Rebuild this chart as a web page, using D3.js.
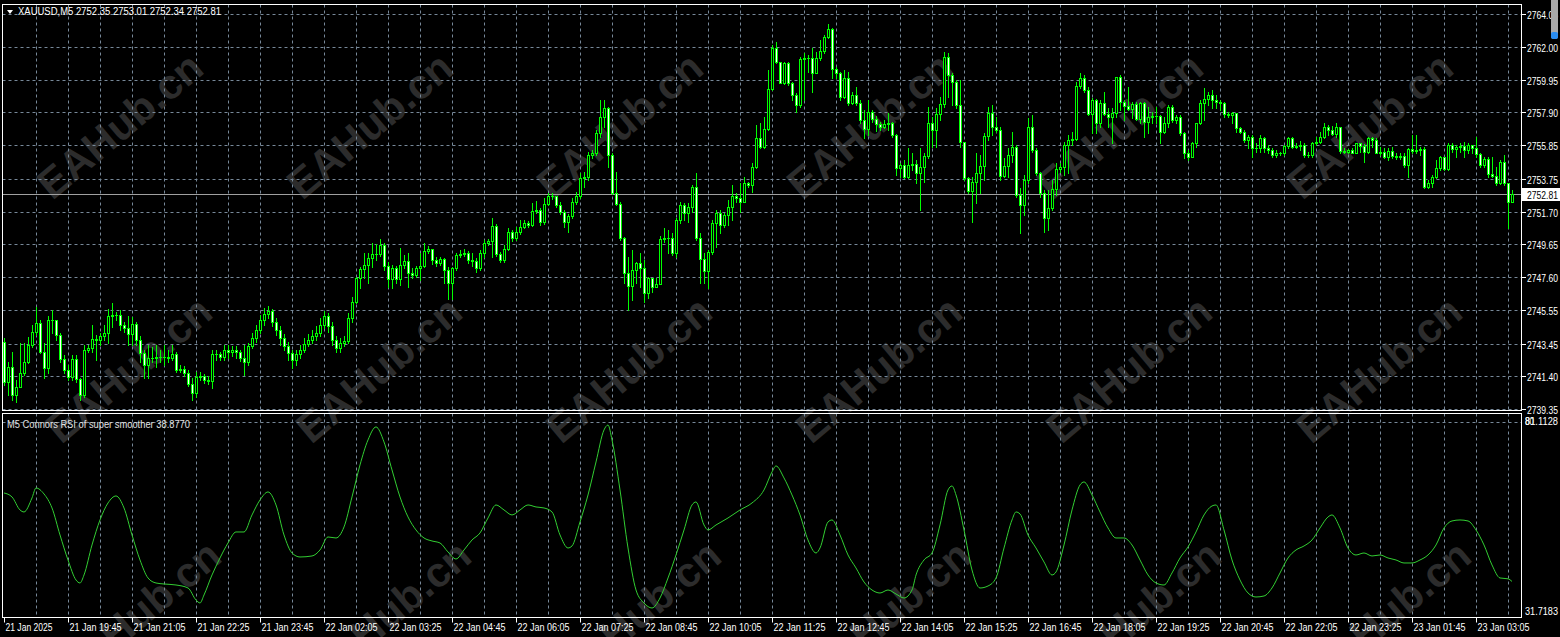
<!DOCTYPE html>
<html><head><meta charset="utf-8">
<script src="https://cdn.jsdelivr.net/npm/d3@7/dist/d3.min.js"></script>
<style>html,body{margin:0;padding:0;background:#000;overflow:hidden}svg{display:block}</style>
</head><body>
<svg id="c" width="1560" height="637"></svg>
<script>
// ---------------- data ----------------
const symbolTitle = "XAUUSD,M5  2752.35 2753.01 2752.34 2752.81";
const indicatorTitle = "M5 Connors RSI of super smoother 38.8770";
const firstOpen = 2743.55;
const closes = [
2741.05,2741.99,2740.24,2740.74,2741.61,2742.30,2743.36,2744.18,2744.74,2742.93,
2741.93,2744.93,2744.93,2743.99,2742.49,2741.80,2741.36,2742.49,2741.24,2740.24,
2743.05,2743.18,2743.74,2743.68,2743.93,2744.11,2745.18,2745.24,2745.24,2744.61,
2744.43,2744.05,2744.68,2743.68,2742.86,2742.11,2742.55,2742.55,2742.61,2742.61,
2742.61,2742.55,2742.80,2741.80,2741.86,2741.61,2740.93,2740.36,2741.36,2741.43,
2741.18,2741.11,2742.80,2742.80,2742.61,2743.05,2742.93,2743.05,2742.93,2742.55,
2742.30,2743.30,2743.80,2744.30,2744.93,2745.30,2745.49,2744.80,2744.30,2743.80,
2743.30,2742.86,2742.43,2742.80,2743.05,2743.43,2743.68,2743.93,2744.11,2744.61,
2745.18,2744.55,2743.68,2743.18,2743.49,2743.61,2745.05,2746.05,2747.55,2748.11,
2748.36,2748.80,2749.05,2749.05,2749.61,2748.30,2747.49,2748.18,2747.49,2748.36,
2748.61,2747.86,2747.74,2748.18,2748.30,2749.24,2749.36,2748.68,2748.49,2748.74,
2748.05,2747.24,2748.18,2748.99,2749.05,2749.11,2748.68,2748.61,2748.18,2749.11,
2749.74,2749.86,2750.80,2749.05,2748.68,2749.36,2750.43,2750.05,2750.43,2750.74,
2750.99,2750.86,2751.74,2751.80,2751.05,2752.18,2752.68,2752.68,2752.11,2751.68,
2751.05,2751.43,2752.30,2752.68,2753.80,2753.86,2755.24,2755.36,2756.61,2757.61,
2758.18,2755.24,2752.86,2752.18,2750.05,2747.86,2747.05,2748.05,2748.49,2748.18,
2746.61,2747.55,2746.99,2747.18,2749.99,2750.05,2750.05,2749.11,2751.18,2752.11,
2751.61,2751.99,2753.24,2750.05,2748.74,2747.99,2749.18,2750.99,2751.61,2750.86,
2751.49,2751.99,2752.68,2752.55,2752.30,2753.49,2753.36,2754.49,2756.30,2755.74,
2756.86,2759.36,2761.93,2761.05,2759.74,2760.99,2759.74,2758.99,2758.36,2761.24,
2761.30,2761.30,2760.36,2761.30,2761.74,2762.61,2763.11,2760.61,2760.36,2758.86,
2760.05,2758.49,2758.99,2758.49,2757.43,2756.86,2757.93,2757.49,2757.18,2756.99,
2757.18,2757.24,2756.49,2754.43,2754.61,2753.86,2754.61,2754.68,2754.11,2754.49,
2755.18,2757.24,2756.80,2757.80,2758.43,2761.36,2760.24,2759.80,2758.36,2756.05,
2753.80,2752.99,2753.55,2754.11,2754.55,2756.43,2757.86,2756.99,2756.80,2753.93,
2754.55,2755.24,2755.74,2752.74,2752.11,2753.68,2756.99,2755.55,2754.11,2752.86,
2751.30,2751.93,2753.11,2754.36,2754.49,2755.86,2756.18,2756.24,2759.55,2760.05,
2759.30,2757.80,2758.68,2757.24,2758.49,2757.80,2757.61,2757.86,2760.11,2758.55,
2758.30,2758.11,2758.43,2757.49,2758.49,2757.30,2757.61,2757.68,2757.68,2756.68,
2757.24,2758.24,2757.43,2757.61,2756.61,2755.36,2755.11,2755.99,2757.24,2758.49,
2758.74,2758.99,2758.68,2758.55,2758.49,2757.80,2757.74,2757.86,2756.93,2756.68,
2756.18,2756.36,2755.68,2755.68,2756.30,2755.68,2755.55,2755.24,2755.36,2755.36,
2755.80,2756.30,2755.74,2755.80,2755.86,2755.24,2755.24,2755.99,2756.05,2756.36,
2756.99,2756.80,2756.55,2756.99,2755.49,2755.43,2755.55,2755.36,2755.99,2755.80,
2755.43,2756.30,2756.18,2755.36,2755.43,2755.11,2755.49,2755.18,2755.11,2755.18,
2754.61,2755.61,2755.49,2755.55,2755.61,2753.24,2753.49,2753.86,2754.43,2755.11,
2754.36,2755.86,2755.61,2755.74,2755.80,2755.55,2755.86,2755.68,2755.30,2754.61,
2754.99,2754.05,2753.93,2753.49,2754.80,2753.49,2752.30,2752.81];
const highs = [
2743.80,2742.30,2742.93,2741.18,2743.49,2743.49,2743.86,2744.61,2745.74,2744.93,
2743.49,2745.18,2745.55,2744.80,2744.11,2742.74,2742.11,2742.74,2742.74,2741.30,
2743.36,2743.36,2744.61,2743.99,2744.11,2744.61,2745.61,2745.99,2745.43,2745.55,
2744.80,2745.18,2745.11,2744.80,2743.93,2743.05,2743.36,2743.24,2743.36,2743.05,
2743.36,2743.05,2743.36,2742.93,2742.11,2742.05,2741.80,2741.30,2741.68,2741.68,
2741.55,2741.43,2743.05,2743.05,2742.93,2743.36,2743.36,2743.30,2743.30,2743.05,
2743.36,2743.49,2744.11,2744.61,2745.24,2745.68,2745.80,2745.61,2745.05,2744.55,
2744.05,2743.55,2743.05,2743.05,2743.36,2743.80,2744.05,2744.30,2744.55,2745.05,
2745.49,2745.36,2744.80,2743.93,2743.80,2743.93,2745.36,2746.36,2747.61,2748.24,
2749.11,2749.11,2749.74,2749.68,2749.99,2749.74,2748.55,2748.36,2748.30,2749.43,
2748.99,2749.11,2748.18,2748.30,2749.11,2749.74,2749.55,2749.36,2748.86,2748.86,
2748.80,2748.24,2748.24,2749.11,2749.30,2749.36,2749.24,2749.11,2748.80,2749.30,
2749.93,2749.99,2751.30,2750.93,2749.18,2749.61,2750.68,2750.55,2750.74,2751.18,
2751.18,2751.11,2752.24,2752.36,2751.93,2752.55,2752.86,2752.86,2752.68,2752.30,
2751.80,2751.55,2752.55,2752.93,2754.11,2754.18,2755.43,2755.55,2756.80,2758.68,
2758.68,2758.24,2755.36,2754.18,2752.30,2750.11,2748.86,2749.30,2748.55,2749.11,
2748.68,2747.61,2747.55,2747.55,2750.18,2750.68,2750.55,2750.36,2751.30,2752.30,
2752.24,2752.24,2753.36,2754.11,2750.36,2749.11,2749.30,2751.18,2751.80,2751.80,
2751.61,2752.43,2753.36,2752.86,2753.49,2753.86,2753.55,2754.74,2757.11,2757.24,
2757.61,2760.55,2762.11,2762.30,2761.05,2761.05,2761.05,2759.80,2759.11,2761.36,
2761.61,2761.49,2761.93,2761.68,2762.43,2762.74,2763.43,2763.18,2760.74,2760.43,
2760.55,2760.43,2759.18,2759.49,2758.68,2758.05,2758.68,2758.05,2757.68,2757.30,
2757.43,2757.86,2757.30,2756.55,2754.74,2754.93,2755.68,2755.36,2754.93,2755.68,
2755.36,2758.24,2757.61,2758.18,2758.86,2761.68,2761.61,2760.36,2759.93,2759.93,
2756.05,2753.86,2753.86,2755.36,2755.24,2756.61,2758.24,2758.36,2757.61,2756.99,
2755.05,2755.68,2756.68,2755.86,2753.18,2753.99,2757.55,2757.74,2755.68,2754.18,
2753.05,2753.05,2753.68,2754.74,2754.74,2756.05,2756.49,2756.68,2759.80,2760.36,
2760.24,2759.49,2758.80,2758.74,2758.68,2759.18,2758.18,2758.18,2760.11,2760.24,
2758.68,2759.49,2758.55,2758.55,2758.55,2758.55,2758.24,2757.93,2758.24,2757.74,
2757.61,2758.36,2758.36,2757.74,2757.74,2756.68,2755.55,2756.05,2757.24,2758.68,
2759.43,2759.18,2759.30,2758.99,2758.68,2758.55,2757.93,2757.93,2757.74,2756.99,
2756.80,2756.49,2756.49,2755.99,2756.49,2756.36,2755.86,2755.68,2755.55,2755.43,
2755.86,2756.36,2756.36,2755.99,2756.11,2755.99,2755.43,2756.05,2756.36,2756.68,
2757.24,2757.11,2757.05,2757.24,2756.99,2755.68,2755.61,2755.68,2755.99,2755.99,
2755.93,2756.36,2756.36,2756.30,2755.74,2755.68,2755.68,2755.74,2755.36,2755.36,
2755.36,2755.68,2756.49,2756.49,2755.74,2755.74,2753.68,2753.99,2754.93,2755.18,
2755.11,2755.99,2755.99,2755.86,2755.99,2756.05,2755.99,2755.86,2756.36,2755.36,
2755.11,2755.11,2755.11,2754.49,2754.93,2755.24,2753.49,2753.05];
const lows = [
2740.86,2740.24,2739.93,2739.80,2740.99,2741.49,2742.24,2743.24,2743.99,2742.86,
2741.30,2741.61,2744.11,2743.68,2742.30,2741.61,2741.18,2741.18,2741.05,2739.93,
2740.11,2742.93,2742.93,2742.43,2743.36,2743.68,2743.49,2744.49,2744.93,2744.30,
2744.18,2743.36,2743.36,2743.36,2742.30,2741.30,2741.30,2742.30,2741.99,2742.30,
2742.11,2742.30,2742.43,2741.68,2741.68,2741.43,2740.80,2739.93,2740.11,2741.18,
2740.99,2740.93,2740.68,2742.43,2742.43,2742.43,2742.55,2742.68,2742.55,2742.36,
2741.49,2742.11,2743.18,2743.55,2744.11,2744.61,2745.05,2744.55,2743.99,2743.36,
2743.05,2742.43,2741.93,2742.11,2742.55,2742.93,2743.30,2743.49,2743.68,2743.93,
2744.43,2744.18,2743.36,2742.93,2742.93,2743.30,2743.49,2744.80,2745.99,2746.93,
2747.55,2747.24,2748.24,2748.68,2748.93,2748.05,2746.99,2746.93,2747.24,2747.11,
2748.18,2746.99,2747.55,2747.61,2747.43,2748.24,2749.11,2748.43,2748.30,2748.36,
2747.24,2746.24,2746.24,2748.05,2748.86,2748.93,2748.49,2748.30,2747.93,2748.05,
2748.86,2749.61,2748.86,2748.93,2748.55,2748.55,2749.30,2749.86,2749.93,2750.30,
2750.68,2750.74,2750.80,2751.61,2750.86,2750.93,2752.11,2752.49,2751.99,2751.55,
2750.74,2750.43,2751.30,2752.18,2752.55,2753.24,2753.68,2755.05,2755.24,2756.36,
2756.99,2754.49,2752.80,2752.11,2749.93,2747.24,2745.55,2746.18,2747.24,2746.99,
2746.05,2746.30,2746.68,2746.99,2747.18,2749.80,2749.11,2748.99,2748.86,2750.99,
2751.18,2751.05,2751.68,2749.93,2747.24,2747.24,2746.93,2749.05,2749.49,2750.36,
2750.74,2750.86,2751.18,2752.30,2751.68,2752.30,2753.24,2752.93,2754.43,2755.68,
2755.68,2756.80,2759.30,2760.99,2759.74,2759.68,2759.61,2758.68,2757.93,2758.24,
2758.68,2760.43,2759.18,2760.36,2761.18,2761.61,2762.55,2760.05,2760.05,2758.68,
2758.80,2758.36,2758.43,2758.36,2757.24,2756.30,2756.49,2757.30,2756.74,2756.80,
2756.93,2756.80,2756.36,2753.99,2753.86,2753.80,2753.80,2754.30,2753.49,2751.80,
2753.55,2755.05,2755.74,2755.74,2757.43,2758.24,2758.86,2758.36,2758.18,2755.74,
2753.68,2752.86,2751.05,2752.24,2752.86,2753.68,2756.18,2756.49,2756.68,2753.68,
2753.86,2753.86,2754.80,2752.61,2750.36,2751.49,2753.49,2755.43,2753.99,2752.61,
2750.43,2750.55,2751.80,2752.74,2754.18,2753.99,2754.11,2755.86,2756.18,2759.43,
2759.18,2757.74,2756.61,2756.61,2756.99,2757.74,2756.99,2755.99,2757.61,2758.05,
2757.43,2758.05,2757.55,2757.43,2757.24,2756.36,2756.61,2757.24,2757.24,2755.99,
2756.61,2756.99,2757.30,2757.24,2756.49,2755.05,2754.93,2755.11,2755.74,2757.18,
2757.43,2758.36,2758.18,2758.18,2758.05,2757.61,2757.61,2757.24,2756.68,2756.61,
2756.05,2755.68,2755.11,2755.43,2755.43,2755.43,2755.36,2755.11,2755.11,2755.24,
2755.24,2755.68,2755.68,2755.68,2755.55,2755.11,2755.11,2755.11,2755.86,2755.99,
2756.30,2756.49,2756.49,2756.36,2755.36,2755.36,2755.36,2755.36,2755.36,2755.43,
2754.80,2755.36,2755.74,2755.36,2755.24,2755.05,2754.93,2755.05,2754.99,2754.99,
2754.49,2753.86,2755.36,2755.36,2755.24,2753.18,2753.18,2753.24,2753.80,2754.30,
2754.30,2754.30,2755.43,2755.11,2755.43,2755.11,2755.36,2755.36,2755.11,2754.49,
2754.49,2753.86,2753.86,2753.36,2753.43,2753.36,2750.68,2752.30];
const lastPrice = 2752.81;
const priceTicks = [2764.05,2762.00,2759.95,2757.90,2755.85,2753.75,2751.70,2749.65,2747.60,2745.55,2743.45,2741.40,2739.35];
const priceTickLabels = ["2764.05","2762.00","2759.95","2757.90","2755.85","2753.75","2751.70","2749.65","2747.60","2745.55","2743.45","2741.40","2739.35"];
const timeLabels = ["21 Jan 2025","21 Jan 19:45","21 Jan 21:05","21 Jan 22:25","21 Jan 23:45","22 Jan 02:05","22 Jan 03:25","22 Jan 04:45","22 Jan 06:05","22 Jan 07:25","22 Jan 08:45","22 Jan 10:05","22 Jan 11:25","22 Jan 12:45","22 Jan 14:05","22 Jan 15:25","22 Jan 16:45","22 Jan 18:05","22 Jan 19:25","22 Jan 20:45","22 Jan 22:05","22 Jan 23:25","23 Jan 01:45","23 Jan 03:05"];
const timeLabelBars = [0,16,32,48,64,80,96,112,128,144,160,176,192,208,224,240,256,272,288,304,320,336,352,368];
const rsiMin = 31.7183, rsiMax = 81.1128;
const rsiLabels = ["81.1128","31.7183"];
// [bar index, indicator value]
const rsiPoints = [
[0,62.77],[2,61.69],[4,58.18],[5,57.64],[7,61.42],[8,64.12],[10,62.50],[12,58.72],[14,51.43],[16,44.68],
[18,39.28],[19,38.47],[20,40.63],[22,48.73],[24,55.48],[26,60.07],[28,61.96],[30,58.72],[32,51.43],[34,44.68],
[36,39.82],[38,38.47],[40,38.20],[43,37.93],[46,37.12],[48,33.88],[49,33.07],[50,35.23],[52,40.63],[54,45.22],
[56,49.27],[58,52.24],[60,52.24],[62,56.83],[64,60.88],[66,63.04],[68,59.53],[70,51.43],[72,46.57],[74,45.49],
[77,45.76],[79,47.38],[81,50.89],[83,50.62],[85,53.59],[87,61.69],[89,70.33],[91,77.08],[93,80.59],[95,76.54],
[97,68.98],[99,61.69],[101,56.29],[103,52.78],[105,50.62],[107,49.81],[109,49.27],[111,46.84],[113,44.95],[115,47.38],
[117,50.08],[119,51.97],[121,56.02],[123,59.53],[125,58.18],[127,56.83],[129,58.18],[131,59.53],[133,58.99],[135,58.72],
[137,57.64],[139,51.43],[141,47.92],[142,48.46],[144,54.94],[146,62.23],[148,71.14],[150,79.78],[151,81.11],[152,77.08],
[154,63.58],[156,47.92],[158,36.58],[160,33.07],[162,31.72],[164,34.42],[166,39.82],[168,46.03],[170,52.78],[172,59.53],
[173,60.34],[175,54.13],[176,52.78],[178,54.13],[181,56.02],[184,58.18],[187,60.07],[190,63.58],[192,68.44],[193,70.06],
[195,66.82],[197,62.23],[199,56.83],[201,50.08],[203,46.57],[204,47.92],[206,54.94],[207,55.48],[209,51.43],[211,46.03],
[213,42.52],[215,38.74],[217,36.58],[219,35.77],[221,36.58],[223,35.50],[225,34.42],[227,36.58],[228,40.63],[230,44.68],
[232,46.57],[234,54.13],[236,63.58],[237,64.66],[238,62.23],[240,52.78],[242,41.98],[244,37.12],[246,37.66],[248,39.82],
[250,47.92],[252,55.48],[253,57.64],[254,57.10],[256,51.43],[258,47.92],[260,44.14],[262,40.63],[263,41.44],[265,48.73],
[267,58.18],[269,64.93],[270,65.74],[272,62.23],[274,57.64],[276,53.32],[278,50.62],[280,50.62],[282,48.73],[284,44.68],
[286,40.63],[288,38.47],[290,37.93],[292,41.17],[294,45.22],[296,48.19],[298,52.24],[300,56.83],[302,59.26],[303,59.53],
[305,52.78],[307,44.68],[309,39.28],[311,35.77],[313,34.69],[315,34.96],[317,37.12],[319,41.17],[321,45.22],[323,47.38],
[325,48.46],[327,50.08],[329,53.32],[331,56.29],[332,56.83],[334,53.32],[336,47.92],[338,46.03],[340,46.57],[342,45.76],
[344,46.03],[346,45.22],[348,44.68],[350,43.87],[352,43.87],[354,44.68],[356,46.03],[358,48.73],[360,53.32],[362,55.21],
[364,55.48],[366,55.21],[368,52.78],[370,48.73],[372,43.33],[374,39.82],[376,39.60],[377,38.877]];

// ---------------- drawing ----------------
const W = 1560, H = 637;
const FONT = "'Liberation Sans', Arial, sans-serif";
const GRID = "#778899", CANDLE = "#00ff00", LINE = "#32cd32";
const main = {l: 2.5, r: 1521.5, t: 4.5, b: 410.5};
const sub  = {l: 2.5, r: 1521.5, t: 413.5, b: 617.5};

const svg = d3.select("#c");
svg.append("rect").attr("width", W).attr("height", H).attr("fill", "#000");

const x = d3.scaleLinear().domain([0, closes.length - 1]).range([4, 1512]);
const y = d3.scaleLinear().domain([2739.35, 2764.05]).range([409.2, 14]);
const yr = d3.scaleLinear().domain([rsiMin, rsiMax]).range([608, 425]);
const px = v => Math.round(v) + 0.5;

const defs = svg.append("defs");
defs.append("clipPath").attr("id", "clipMain").append("rect")
  .attr("x", main.l).attr("y", main.t).attr("width", main.r - main.l).attr("height", main.b - main.t);
defs.append("clipPath").attr("id", "clipSub").append("rect")
  .attr("x", sub.l).attr("y", sub.t).attr("width", sub.r - sub.l).attr("height", sub.b - sub.t);

// watermark
const wm = svg.append("g").attr("pointer-events", "none");
for (let r = 0; r < 3; r++) {
  for (let c = 0; c < 6; c++) {
    const cx = 122 + 250 * c + 9 * r, cy = 128 + 244 * r;
    wm.append("text").attr("transform", `translate(${cx},${cy}) rotate(-40)`)
      .attr("text-anchor", "middle").attr("dominant-baseline", "middle")
      .attr("font-family", FONT).attr("font-weight", "bold").attr("font-size", 42)
      .attr("fill", "#2c2c2c").text("EAHub.cn");
  }
}

// grid: horizontal main
const gMain = svg.append("g").attr("clip-path", "url(#clipMain)");
gMain.selectAll("line.hg").data(priceTicks).join("line")
  .attr("x1", main.l).attr("x2", main.r)
  .attr("y1", d => px(y(d))).attr("y2", d => px(y(d)))
  .attr("stroke", GRID).attr("stroke-dasharray", "3,3");
// vertical grid lines every 8 bars
const vBars = d3.range(8, closes.length, 8);
gMain.selectAll("line.vg").data(vBars).join("line")
  .attr("x1", d => px(x(d))).attr("x2", d => px(x(d)))
  .attr("y1", main.t).attr("y2", main.b)
  .attr("stroke", GRID).attr("stroke-dasharray", "3,3");

const gSub = svg.append("g").attr("clip-path", "url(#clipSub)");
gSub.selectAll("line.vg").data(vBars).join("line")
  .attr("x1", d => px(x(d))).attr("x2", d => px(x(d)))
  .attr("y1", sub.t).attr("y2", sub.b)
  .attr("stroke", GRID).attr("stroke-dasharray", "3,3");
gSub.append("line").attr("x1", sub.l).attr("x2", sub.r)
  .attr("y1", px(yr(rsiMax) - 3)).attr("y2", px(yr(rsiMax) - 3))
  .attr("stroke", GRID).attr("stroke-dasharray", "3,3");

// current price line
gMain.append("line").attr("x1", main.l).attr("x2", main.r)
  .attr("y1", px(y(lastPrice))).attr("y2", px(y(lastPrice)))
  .attr("stroke", "#a0a0a0");

// candles
const candles = closes.map((c, i) => {
  const o = i === 0 ? firstOpen : closes[i - 1];
  return {i, o, c, h: Math.max(highs[i], o, c), l: Math.min(lows[i], o, c)};
});
const gC = gMain.append("g");
gC.selectAll("line.wick").data(candles).join("line")
  .attr("x1", d => px(x(d.i))).attr("x2", d => px(x(d.i)))
  .attr("y1", d => Math.round(y(d.h))).attr("y2", d => Math.round(y(d.l)) + 1)
  .attr("stroke", CANDLE);
candles.forEach(d => {
  const cx = Math.round(x(d.i));
  const top = Math.round(y(Math.max(d.o, d.c)));
  const bot = Math.round(y(Math.min(d.o, d.c)));
  if (bot - top < 1) {
    gC.append("line").attr("x1", cx - 1).attr("x2", cx + 2)
      .attr("y1", top + 0.5).attr("y2", top + 0.5).attr("stroke", CANDLE);
  } else {
    gC.append("rect").attr("x", cx - 0.5).attr("y", top + 0.5)
      .attr("width", 2).attr("height", bot - top)
      .attr("fill", d.c >= d.o ? "#000" : "#fff").attr("stroke", CANDLE);
  }
});

// indicator line
gSub.append("path").datum(rsiPoints)
  .attr("d", d3.line().x(d => x(d[0])).y(d => yr(d[1])).curve(d3.curveMonotoneX))
  .attr("fill", "none").attr("stroke", LINE).attr("stroke-width", 1);

// pane borders
[main, sub].forEach(p => {
  svg.append("rect").attr("x", p.l).attr("y", p.t).attr("width", p.r - p.l).attr("height", p.b - p.t)
    .attr("fill", "none").attr("stroke", "#fff");
});

// right price axis
const gAx = svg.append("g").attr("font-family", FONT).attr("font-size", 10).attr("fill", "#fff");
priceTicks.forEach((t, k) => {
  const yy = px(y(t));
  gAx.append("line").attr("x1", 1522).attr("x2", 1526).attr("y1", yy).attr("y2", yy).attr("stroke", "#fff");
  gAx.append("text").attr("x", 1527).attr("y", yy + 4)
    .attr("textLength", 31).attr("lengthAdjust", "spacingAndGlyphs").text(priceTickLabels[k]);
});
// last price box
const ly = px(y(lastPrice));
svg.append("rect").attr("x", 1522).attr("y", ly - 6.5).attr("width", 38).attr("height", 13).attr("fill", "#fff");
svg.append("text").attr("x", 1527).attr("y", ly + 4).attr("font-family", FONT).attr("font-size", 10)
  .attr("fill", "#000").attr("textLength", 31).attr("lengthAdjust", "spacingAndGlyphs")
  .text(d3.format(".2f")(lastPrice));

// indicator scale labels
gAx.append("text").attr("x", 1525).attr("y", yr(rsiMax))
  .attr("textLength", 33).attr("lengthAdjust", "spacingAndGlyphs").text(rsiLabels[0]);
gAx.append("text").attr("x", 1525).attr("y", yr(rsiMax))
  .attr("textLength", 9).attr("lengthAdjust", "spacingAndGlyphs").text("80");
gAx.append("text").attr("x", 1525).attr("y", yr(rsiMin) + 7)
  .attr("textLength", 33).attr("lengthAdjust", "spacingAndGlyphs").text(rsiLabels[1]);

// time axis
timeLabelBars.forEach((b, k) => {
  const xx = px(x(b));
  gAx.append("line").attr("x1", xx).attr("x2", xx).attr("y1", sub.b).attr("y2", sub.b + 5).attr("stroke", "#fff");
  gAx.append("text").attr("x", xx + 1).attr("y", 631)
    .attr("textLength", k === 0 ? 47 : 52).attr("lengthAdjust", "spacingAndGlyphs").text(timeLabels[k]);
});

// titles
svg.append("path").attr("d", "M7,10L13,10L10,14Z").attr("fill", "#fff");
svg.append("text").attr("x", 18).attr("y", 15).attr("font-family", FONT).attr("font-size", 10)
  .attr("fill", "#fff").attr("textLength", 203).attr("lengthAdjust", "spacingAndGlyphs").text(symbolTitle);
svg.append("text").attr("x", 7).attr("y", 428).attr("font-family", FONT).attr("font-size", 10)
  .attr("fill", "#e0e0e0").attr("textLength", 183).attr("lengthAdjust", "spacingAndGlyphs").text(indicatorTitle);

// scroll widget at top-right
svg.append("rect").attr("x", 1551).attr("y", -4).attr("width", 7).attr("height", 43).attr("rx", 3).attr("fill", "#a9a9a9");
svg.append("rect").attr("x", 1551).attr("y", 32).attr("width", 7).attr("height", 7).attr("rx", 2).attr("fill", "#2a8cf0");
</script>
</body></html>
